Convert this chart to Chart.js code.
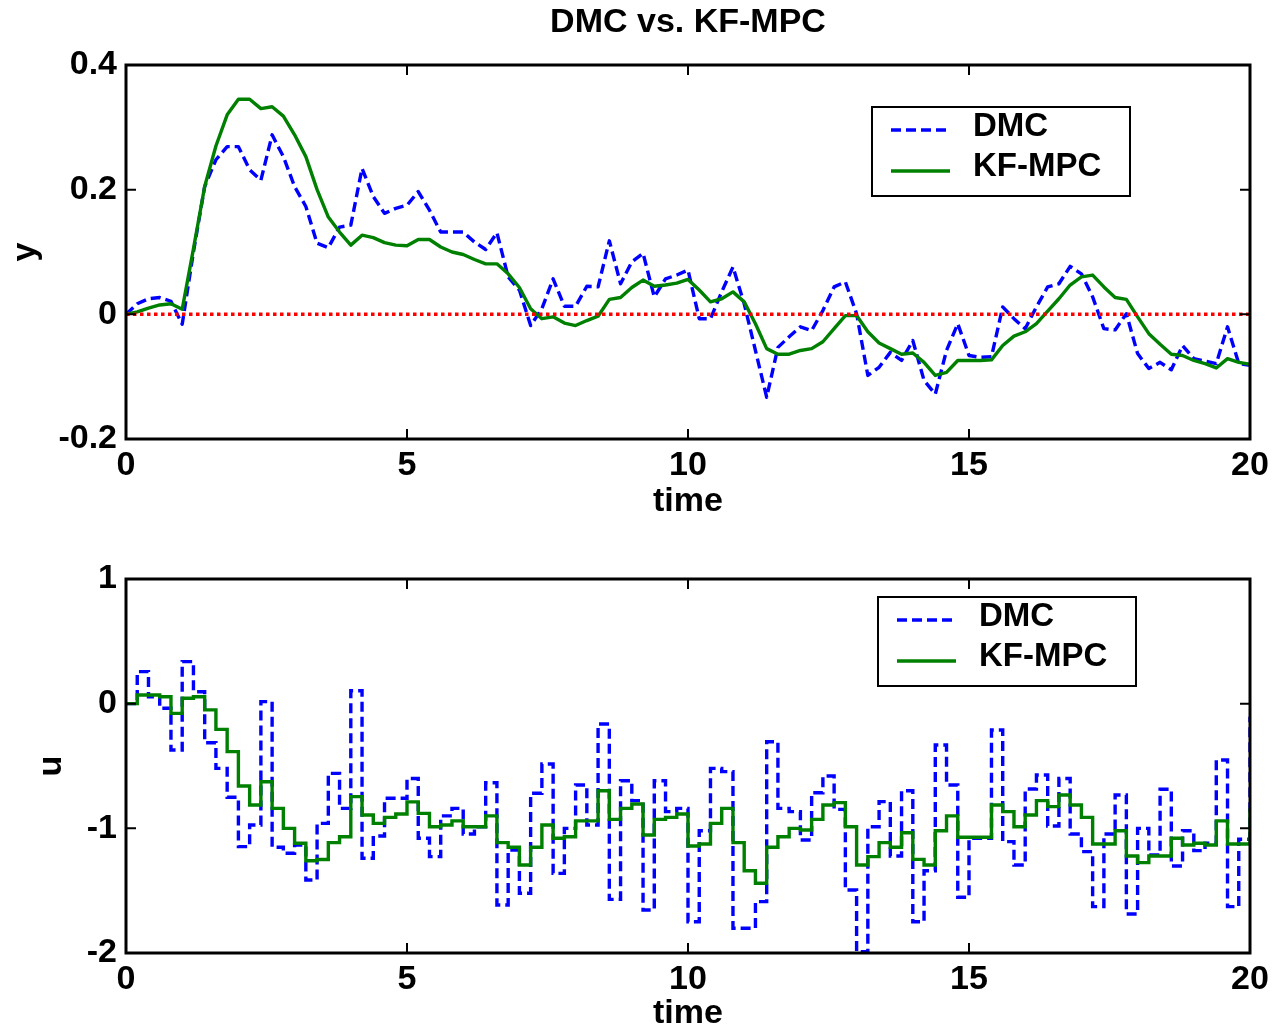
<!DOCTYPE html>
<html>
<head>
<meta charset="utf-8">
<title>DMC vs. KF-MPC</title>
<script src="https://cdn.jsdelivr.net/npm/chart.js@4.4.0/dist/chart.umd.min.js"></script>
<style>
    html, body { margin: 0; padding: 0; background: #fff; }
    #wrap { position: relative; width: 1275px; height: 1031px; }
    canvas { position: absolute; left: 0; }
    #yPlot { top: 0; }
    #uPlot { top: 530px; }
</style>
</head>
<body>
<div id="wrap">
    <canvas id="yPlot" width="1275" height="530"></canvas>
    <canvas id="uPlot" width="1275" height="501"></canvas>
</div>
<script>
// sample instants, Ts = 0.2 over 0..20
const time = Array.from({length: 101}, (_, k) => Math.round(k * 2) / 10);

// controlled output y
const yDMC = [
    0, 0.017, 0.025, 0.027, 0.021, -0.016, 0.1, 0.205, 0.248, 0.269,
    0.269, 0.232, 0.215, 0.288, 0.253, 0.205, 0.173, 0.114, 0.107, 0.14,
    0.143, 0.234, 0.189, 0.162, 0.17, 0.175, 0.197, 0.167, 0.132, 0.132,
    0.132, 0.116, 0.104, 0.131, 0.06, 0.039, -0.018, 0.009, 0.057, 0.013,
    0.013, 0.045, 0.044, 0.118, 0.049, 0.084, 0.098, 0.028, 0.057, 0.063,
    0.071, -0.007, -0.007, 0.036, 0.076, 0.017, -0.058, -0.133, -0.053, -0.036,
    -0.02, -0.026, 0.006, 0.044, 0.052, 0.001, -0.098, -0.085, -0.061, -0.074,
    -0.042, -0.106, -0.128, -0.058, -0.015, -0.066, -0.069, -0.068, 0.012, -0.007,
    -0.023, 0.012, 0.044, 0.049, 0.077, 0.065, 0.028, -0.023, -0.025, 0.001,
    -0.063, -0.087, -0.077, -0.089, -0.05, -0.071, -0.075, -0.079, -0.02, -0.079,
    -0.082
];
const yKF = [
    0, 0.004, 0.01, 0.015, 0.017, 0.008, 0.105, 0.205, 0.27, 0.32,
    0.345, 0.345, 0.33, 0.333, 0.318, 0.288, 0.253, 0.2, 0.156, 0.132,
    0.111, 0.127, 0.123, 0.115, 0.111, 0.11, 0.12, 0.12, 0.108, 0.1,
    0.096, 0.088, 0.081, 0.081, 0.065, 0.043, 0.009, -0.007, -0.004, -0.014,
    -0.018, -0.01, -0.003, 0.024, 0.027, 0.043, 0.055, 0.045, 0.047, 0.05,
    0.056, 0.039, 0.02, 0.025, 0.036, 0.02, -0.015, -0.055, -0.064, -0.064,
    -0.058, -0.055, -0.044, -0.023, -0.002, -0.002, -0.028, -0.046, -0.055, -0.064,
    -0.062, -0.077, -0.098, -0.093, -0.074, -0.074, -0.074, -0.073, -0.05, -0.035,
    -0.028, -0.015, 0.005, 0.025, 0.047, 0.06, 0.063, 0.044, 0.027, 0.024,
    -0.004, -0.031, -0.048, -0.064, -0.066, -0.074, -0.079, -0.086, -0.071, -0.077,
    -0.08
];

// manipulated input u (held over each sample)
const uDMC = [
    0, 0.257, 0.056, -0.037, -0.372, 0.337, 0.096, -0.313, -0.519, -0.751,
    -1.147, -0.973, 0.016, -1.152, -1.2, -1.134, -1.414, -0.96, -0.559, -0.84,
    0.104, -1.24, -1.061, -0.759, -0.759, -0.6, -1.08, -1.227, -0.9, -0.84,
    -1.045, -0.987, -0.634, -1.615, -1.174, -1.521, -0.719, -0.484, -1.361, -1.0,
    -0.652, -0.973, -0.163, -1.57, -0.618, -0.778, -1.655, -0.618, -0.866, -0.84,
    -1.749, -1.019, -0.519, -0.545, -1.802, -1.802, -1.588, -0.305, -0.84, -0.866,
    -1.094, -0.714, -0.58, -0.848, -1.495, -1.99, -0.987, -0.786, -1.222, -0.698,
    -1.749, -1.34, -0.332, -0.652, -1.553, -1.08, -1.08, -0.211, -1.107, -1.294,
    -0.684, -0.572, -0.981, -0.6, -1.045, -1.187, -1.628, -1.045, -0.733, -1.687,
    -1.0, -1.214, -0.687, -1.302, -1.019, -1.179, -1.12, -0.452, -1.628, -1.088,
    -0.104
];
const uKF = [
    0, 0.07, 0.07, 0.056, -0.078, 0.043, 0.056, -0.05, -0.206, -0.385,
    -0.66, -0.813, -0.626, -0.84, -1.0, -1.12, -1.26, -1.25, -1.115, -1.067,
    -0.746, -0.893, -0.96, -0.912, -0.885, -0.788, -0.88, -0.987, -0.973, -0.94,
    -0.987, -0.987, -0.9, -1.115, -1.152, -1.294, -1.152, -0.973, -1.08, -1.067,
    -0.94, -0.94, -0.698, -0.928, -0.84, -0.805, -1.053, -0.928, -0.912, -0.885,
    -1.142, -1.126, -0.96, -0.84, -1.115, -1.34, -1.441, -1.152, -1.067, -1.0,
    -1.013, -0.928, -0.813, -0.794, -0.987, -1.294, -1.227, -1.115, -1.152, -1.035,
    -1.249, -1.294, -1.019, -0.9, -1.072, -1.072, -1.072, -0.813, -0.866, -0.987,
    -0.893, -0.778, -0.826, -0.733, -0.813, -0.912, -1.126, -1.126, -1.019, -1.222,
    -1.275, -1.222, -1.222, -1.08, -1.134, -1.12, -1.134, -0.94, -1.126, -1.126,
    -0.84
];

// setpoint line
const refTime = [0, 20];
const refY = [0, 0];

const timeTicks = [0, 5, 10, 15, 20];
const yTicks = [-0.2, 0, 0.2, 0.4];
const uTicks = [-2, -1, 0, 1];
const seriesNames = ['DMC', 'KF-MPC'];

const FONT = '"Liberation Sans", Arial, Helvetica, sans-serif';
Chart.defaults.font.family = FONT;
Chart.defaults.font.weight = 'bold';
Chart.defaults.font.size = 34;
Chart.defaults.color = '#000';

const BLUE = '#0000ff';
const GREEN = '#008000';
const RED = '#ff0000';
const DASH = [10, 5];
const LW = 3.4;

function pts(xs, ys) {
    return xs.map((x, i) => ({x: x, y: ys[i]}));
}

// box around the axes, with inward ticks on all four sides
const axesBox = {
    id: 'axesBox',
    afterDatasetsDraw(chart) {
        const {ctx, chartArea: a, scales: {x, y}} = chart;
        const len = 10;
        ctx.save();
        ctx.strokeStyle = '#000';
        ctx.lineWidth = 2;
        ctx.beginPath();
        x.ticks.forEach(t => {
            const px = x.getPixelForValue(t.value);
            ctx.moveTo(px, a.bottom); ctx.lineTo(px, a.bottom - len);
            ctx.moveTo(px, a.top); ctx.lineTo(px, a.top + len);
        });
        y.ticks.forEach(t => {
            const py = y.getPixelForValue(t.value);
            ctx.moveTo(a.left, py); ctx.lineTo(a.left + len, py);
            ctx.moveTo(a.right, py); ctx.lineTo(a.right - len, py);
        });
        ctx.stroke();
        ctx.lineWidth = 3;
        ctx.strokeRect(a.left, a.top, a.right - a.left, a.bottom - a.top);
        ctx.restore();
    }
};

// legend box in the upper right corner of the axes
const boxLegend = {
    id: 'boxLegend',
    afterDraw(chart, args, opts) {
        const {ctx, chartArea: a} = chart;
        const bx = a.right - opts.fromRight;
        const by = a.top + opts.fromTop;
        const bw = 258, bh = 89;
        ctx.save();
        ctx.fillStyle = '#fff';
        ctx.fillRect(bx, by, bw, bh);
        ctx.strokeStyle = '#000';
        ctx.lineWidth = 2;
        ctx.strokeRect(bx, by, bw, bh);

        const entries = [chart.data.datasets[0], chart.data.datasets[1]];
        const lineY = [23, 64];
        const textY = [20, 60];
        entries.forEach((ds, i) => {
            ctx.beginPath();
            ctx.strokeStyle = ds.borderColor;
            ctx.lineWidth = ds.borderWidth;
            ctx.setLineDash(ds.borderDash || []);
            ctx.moveTo(bx + 19, by + lineY[i]);
            ctx.lineTo(bx + 78, by + lineY[i]);
            ctx.stroke();
            ctx.setLineDash([]);
            ctx.fillStyle = '#000';
            ctx.font = 'bold 33px ' + FONT;
            ctx.textAlign = 'left';
            ctx.textBaseline = 'middle';
            ctx.fillText(ds.label, bx + 101, by + textY[i]);
        });
        ctx.restore();
    }
};

function xScale(axisHeight, titlePad) {
    return {
        type: 'linear',
        min: 0,
        max: 20,
        afterBuildTicks: s => { s.ticks = timeTicks.map(v => ({value: v})); },
        afterFit: s => { s.height = axisHeight; },
        grid: {display: false, drawTicks: false},
        border: {display: false},
        ticks: {padding: 6, maxRotation: 0, autoSkip: false},
        title: {display: true, text: 'time', font: {size: 34, weight: 'bold', lineHeight: 1}, padding: {top: 0, bottom: titlePad}}
    };
}

function yScale(min, max, tickList, label, titlePad) {
    return {
        type: 'linear',
        min: min,
        max: max,
        afterBuildTicks: s => { s.ticks = tickList.map(v => ({value: v})); },
        afterFit: s => { s.width = 126; },
        grid: {display: false, drawTicks: false},
        border: {display: false},
        ticks: {padding: 9, callback: v => String(Math.round(v * 10) / 10)},
        title: {display: true, text: label, font: {size: 34, weight: 'bold', lineHeight: 1}, padding: {top: titlePad, bottom: 0}}
    };
}

new Chart(document.getElementById('yPlot'), {
    type: 'line',
    data: {
        datasets: [
            {label: seriesNames[0], data: pts(time, yDMC), borderColor: BLUE, borderWidth: LW, borderDash: DASH, order: 3},
            {label: seriesNames[1], data: pts(time, yKF), borderColor: GREEN, borderWidth: LW, order: 2},
            {label: 'setpoint', data: pts(refTime, refY), borderColor: RED, borderWidth: 3.5, borderDash: [3.5, 3.5], order: 1}
        ]
    },
    options: {
        responsive: false,
        animation: false,
        devicePixelRatio: 1,
        layout: {padding: {left: 0, right: 25, top: 0, bottom: 0}},
        elements: {
            point: {radius: 0},
            line: {tension: 0, fill: false, borderJoinStyle: 'round', borderCapStyle: 'butt'}
        },
        scales: {
            x: xScale(91, 11),
            y: yScale(-0.2, 0.4, yTicks, 'y', 9)
        },
        plugins: {
            legend: {display: false},
            tooltip: {enabled: false},
            title: {
                display: true,
                fullSize: false,
                text: 'DMC vs. KF-MPC',
                font: {size: 34, weight: 'bold', lineHeight: 1},
                padding: {top: 6, bottom: 25}
            },
            boxLegend: {fromRight: 378, fromTop: 42}
        }
    },
    plugins: [axesBox, boxLegend]
});

new Chart(document.getElementById('uPlot'), {
    type: 'line',
    data: {
        datasets: [
            {label: seriesNames[0], data: pts(time, uDMC), borderColor: BLUE, borderWidth: LW, borderDash: DASH, stepped: 'before', order: 2},
            {label: seriesNames[1], data: pts(time, uKF), borderColor: GREEN, borderWidth: LW, stepped: 'before', order: 1}
        ]
    },
    options: {
        responsive: false,
        animation: false,
        devicePixelRatio: 1,
        layout: {padding: {left: 0, right: 25, top: 49, bottom: 0}},
        elements: {
            point: {radius: 0},
            line: {tension: 0, fill: false, borderJoinStyle: 'miter', borderCapStyle: 'butt'}
        },
        scales: {
            x: xScale(78, 0),
            y: yScale(-2, 1, uTicks, 'u', 35)
        },
        plugins: {
            legend: {display: false},
            tooltip: {enabled: false},
            title: {display: false},
            boxLegend: {fromRight: 372, fromTop: 18}
        }
    },
    plugins: [axesBox, boxLegend]
});
</script>
</body>
</html>
